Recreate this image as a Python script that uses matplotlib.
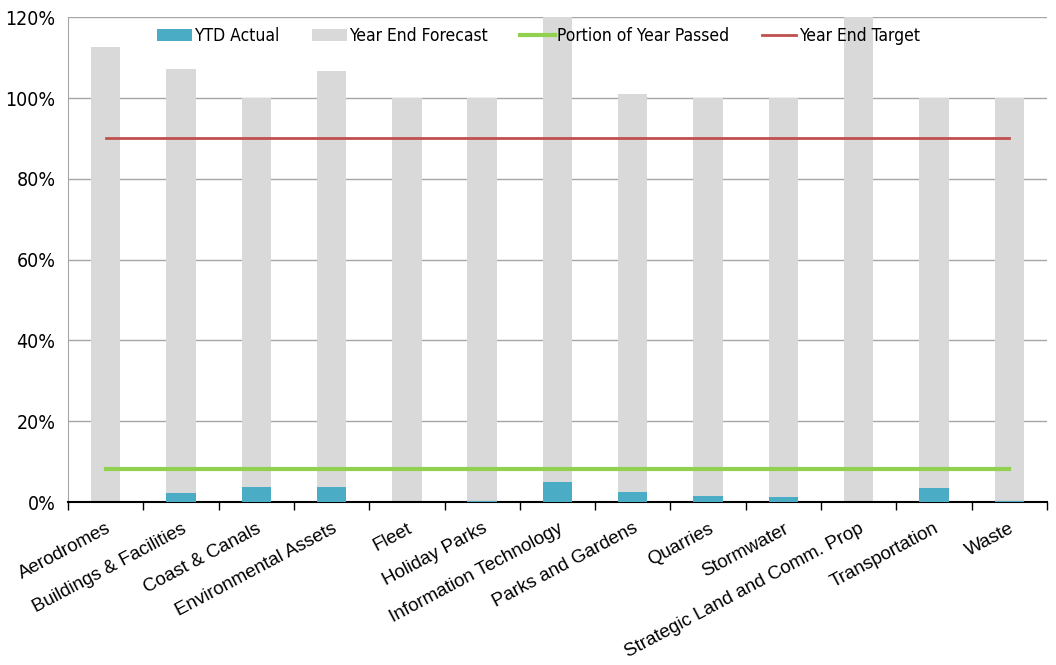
import matplotlib.pyplot as plt
import numpy as np
from matplotlib.ticker import FuncFormatter

# chart data (percent)
categories = ["Aerodromes", "Buildings & Facilities", "Coast & Canals", "Environmental Assets",
              "Fleet", "Holiday Parks", "Information Technology", "Parks and Gardens",
              "Quarries", "Stormwater", "Strategic Land and Comm. Prop", "Transportation", "Waste"]
ytd_actual = [0.0, 2.3, 3.8, 3.8, 0.0, 0.2, 5.0, 2.4, 1.6, 1.2, 0.1, 3.4, 0.2]
year_end_forecast = [112.6, 107.2, 100.0, 106.7, 100.0, 100.0, 130.0, 101.0, 100.0, 100.0, 130.0, 100.0, 100.0]
portion_passed = [8.3, 8.3, 8.3, 8.3, 8.3, 8.3, 8.3, 8.3, 8.3, 8.3, 8.3, 8.3, 8.3]
year_end_target = [90, 90, 90, 90, 90, 90, 90, 90, 90, 90, 90, 90, 90]
y_ticks = [0, 20, 40, 60, 80, 100, 120]

plt.rcParams["font.family"] = ["Liberation Sans", "DejaVu Sans"]

fig = plt.figure(figsize=(10.56, 6.65), dpi=100)
ax = fig.add_axes([0.0644, 0.245, 0.927, 0.729])

x = np.arange(len(categories))
width = 0.39
forecast_bar = ax.bar(x, year_end_forecast, width=width, color="#D9D9D9", zorder=2)
actual_bar = ax.bar(x, ytd_actual, width=width, color="#4BACC6", zorder=3)
passed_line, = ax.plot(x, portion_passed, color="#92D050", linewidth=3, zorder=4)
target_line, = ax.plot(x, year_end_target, color="#C0504D", linewidth=2, zorder=4)

ax.set_xlim(-0.5, len(categories) - 0.5)
ax.set_ylim(0, 120)
ax.set_yticks(y_ticks)
ax.yaxis.set_major_formatter(FuncFormatter(lambda v, p: f"{int(v)}%"))
ax.grid(axis="y", color="#A6A6A6", linewidth=1, zorder=0)

ax.set_xticks(x)
ax.set_xticklabels(categories, rotation=28, ha="right", rotation_mode="anchor", fontsize=13.5)
ax.tick_params(axis="x", length=0, pad=13)
ax.set_xticks(np.arange(-0.5, len(categories)), minor=True)
ax.tick_params(axis="x", which="minor", length=6, width=1, color="black", direction="out")
ax.tick_params(axis="y", length=0, pad=9, labelsize=14)
for lbl in ax.get_yticklabels():
    lbl.set_family("DejaVu Sans")
    lbl.set_stretch("condensed")

for side in ["top", "right"]:
    ax.spines[side].set_visible(False)
ax.spines["left"].set_color("#A6A6A6")
ax.spines["bottom"].set_color("black")
ax.spines["bottom"].set_linewidth(1.5)

leg = ax.legend([actual_bar, forecast_bar, passed_line, target_line],
                ["YTD Actual", "Year End Forecast", "Portion of Year Passed", "Year End Target"],
                loc="upper left", bbox_to_anchor=(0.075, 1.012), ncol=4, frameon=False,
                handlelength=2.0, handleheight=0.75, columnspacing=1.85, handletextpad=0.15,
                prop={"family": "DejaVu Sans", "stretch": "condensed", "size": 12.5})

fig.savefig("out.png", dpi=100)
